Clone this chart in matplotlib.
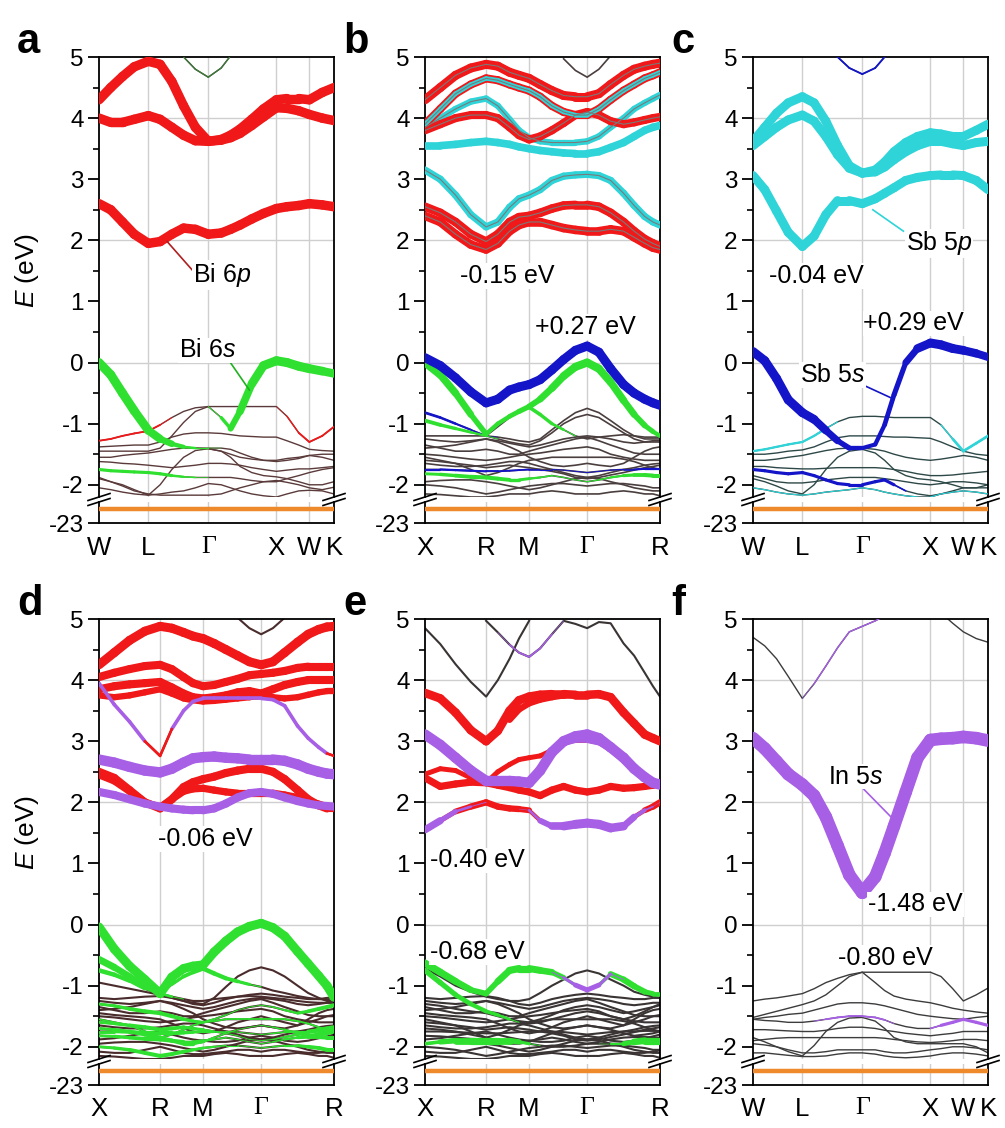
import numpy as np
import matplotlib.pyplot as plt
from matplotlib.collections import LineCollection
from matplotlib.lines import Line2D

plt.rcParams['font.family'] = ['Liberation Sans', 'DejaVu Sans']
plt.rcParams['mathtext.fontset'] = 'custom'
plt.rcParams['mathtext.rm'] = 'Liberation Sans'
plt.rcParams['mathtext.it'] = 'Liberation Sans:italic'
plt.rcParams['axes.unicode_minus'] = False

nan = np.nan

RED = '#f01818'
GREEN = '#30e030'
BLUE = '#1414c8'
CYAN = '#2fd4d8'
PURPLE = '#a75fe6'
ORANGE = '#ef8a2c'
GRID = '#cfcfcf'

# k paths (fraction of path length)
K_WL = [0, .05, .1, .15, .21, .26, .31, .36, .41, .465, .52, .56, .6, .65, .7, .755, .8, .85, .895, .95, 1.0]
K_XR = [0, .065, .13, .195, .26, .31, .36, .40, .443, .49, .54, .59, .64, .69, .74, .79, .845, .89, .935, .97, 1.0]
POS_WL = [0, 0.21, 0.465, 0.755, 0.895, 1.0]
LAB_WL = ['W', 'L', 'Γ', 'X', 'W', 'K']
POS_XR = [0, 0.26, 0.443, 0.69, 1.0]
LAB_XR = ['X', 'R', 'M', 'Γ', 'R']
DEEP_E = -22.45   # semicore band shown below the axis break

# ---------------- panel a ----------------
A_p1 = [2.6, 2.5, 2.3, 2.1, 1.95, 1.98, 2.1, 2.2, 2.18, 2.1, 2.12, 2.18, 2.25, 2.35, 2.44, 2.52, 2.55, 2.57, 2.6, 2.58, 2.55]
A_p2 = [4.0, 3.93, 3.93, 3.98, 4.04, 3.98, 3.85, 3.72, 3.63, 3.62, 3.64, 3.68, 3.75, 3.88, 4.02, 4.17, 4.16, 4.12, 4.06, 4.0, 3.96]
A_p3 = [4.3, 4.5, 4.68, 4.84, 4.93, 4.88, 4.6, 4.2, 3.85, 3.62, 3.65, 3.72, 3.82, 3.98, 4.15, 4.3, 4.32, 4.32, 4.3, 4.42, 4.5]
A_c4 = [nan] * 6 + [5.3, 5.0, 4.8, 4.67, 4.82, 5.02, 5.3] + [nan] * 8
A_v1 = [-1.28, -1.25, -1.2, -1.16, -1.12, -1.02, -0.9, -0.8, -0.74, -0.72, -0.9, -1.08, -0.8, -0.35, -0.05, 0.03, 0.0, -0.06, -0.1, -0.14, -0.18]
A_v2 = [0.0, -0.2, -0.5, -0.79, -1.11, -1.25, -1.33, -1.38, -1.4, -1.4, -1.4, -1.42, -1.48, -1.55, -1.6, -1.62, -1.6, -1.57, -1.52, -1.5, -1.5]
A_v3 = [-1.45, -1.45, -1.45, -1.45, -1.45, -1.4, -1.2, -0.98, -0.8, -0.72, -0.72, -0.72, -0.72, -0.72, -0.72, -0.72, -0.88, -1.15, -1.3, -1.2, -1.05]
A_v4 = [-1.38, -1.37, -1.36, -1.35, -1.35, -1.3, -1.22, -1.17, -1.15, -1.15, -1.16, -1.18, -1.2, -1.21, -1.22, -1.22, -1.28, -1.35, -1.42, -1.44, -1.45]
A_v5 = [-1.55, -1.55, -1.52, -1.5, -1.48, -1.45, -1.42, -1.4, -1.4, -1.41, -1.45, -1.5, -1.55, -1.58, -1.6, -1.6, -1.57, -1.55, -1.52, -1.55, -1.6]
A_v6 = [-1.9, -1.95, -2.0, -2.08, -2.17, -2.0, -1.75, -1.55, -1.44, -1.41, -1.45, -1.55, -1.7, -1.8, -1.85, -1.87, -1.9, -1.95, -2.0, -2.0, -1.95]
A_v7 = [-1.75, -1.77, -1.78, -1.79, -1.8, -1.82, -1.85, -1.87, -1.88, -1.88, -1.88, -1.88, -1.9, -1.93, -1.95, -1.95, -1.9, -1.85, -1.8, -1.75, -1.72]
A_v8 = [-1.62, -1.63, -1.65, -1.66, -1.68, -1.7, -1.72, -1.7, -1.68, -1.65, -1.65, -1.66, -1.68, -1.72, -1.75, -1.78, -1.76, -1.74, -1.74, -1.72, -1.7]
A_v9 = [-2.05, -2.08, -2.12, -2.15, -2.17, -2.15, -2.12, -2.1, -2.05, -1.98, -2.0, -2.05, -2.1, -2.15, -2.18, -2.2, -2.15, -2.1, -2.09, -2.1, -2.15]
A_v10 = [-1.88, -1.95, -2.02, -2.1, -2.15, -2.17, -2.17, -2.17, -2.17, -2.17, -2.15, -2.1, -2.05, -2.0, -1.95, -1.93, -1.96, -2.0, -2.05, -2.08, -2.04]
A_w1 = [0] * 10 + [0.2, 0.55, 0.8, 0.9, 1, 1, 1, 1, 1, 0.95, 0.9]
A_w1r = [0.2] * 6 + [0] * 15
A_w2 = [1, 1, 1, 1, 0.95, 0.85, 0.6, 0.35, 0.2, 0.1] + [0] * 11
A_w3r = [0] * 16 + [0.1, 0.2, 0.2, 0.2, 0.2]
A_w7 = [0.35] * 7 + [0.2, 0.15] + [0] * 12

# ---------------- panel b ----------------
B_blue = [0.08, -0.05, -0.25, -0.48, -0.66, -0.6, -0.45, -0.4, -0.36, -0.28, -0.12, 0.05, 0.2, 0.27, 0.17, -0.1, -0.36, -0.5, -0.6, -0.66, -0.7]
B_green = [0.0, -0.2, -0.5, -0.85, -1.17, -1.0, -0.88, -0.8, -0.72, -0.6, -0.42, -0.22, -0.07, 0.0, -0.1, -0.32, -0.62, -0.85, -1.03, -1.13, -1.2]
B_wg = [0.9, 0.85, 0.8, 0.7, 0.5, 0.45, 0.5, 0.55, 0.6, 0.7, 0.8, 0.85, 0.9, 0.9, 0.9, 0.85, 0.8, 0.7, 0.6, 0.5, 0.45]
B_v3 = [-0.82, -0.9, -1.0, -1.1, -1.2, -1.22, -1.25, -1.28, -1.3, -1.25, -1.1, -0.95, -0.82, -0.75, -0.82, -0.95, -1.1, -1.2, -1.25, -1.25, -1.25]
B_v4 = [-0.95, -1.02, -1.08, -1.14, -1.2, -1.25, -1.3, -1.33, -1.35, -1.28, -1.15, -1.0, -0.9, -0.85, -0.9, -1.02, -1.15, -1.25, -1.3, -1.3, -1.3]
B_v5 = [-1.2, -1.2, -1.2, -1.2, -1.2, -1.05, -0.9, -0.8, -0.73, -0.85, -1.0, -1.1, -1.2, -1.25, -1.22, -1.2, -1.18, -1.2, -1.22, -1.22, -1.22]
B_w3 = [0.3, 0.3, 0.25, 0.2, 0.1] + [0] * 16
B_w4 = [0.45, 0.4, 0.35, 0.3, 0.2] + [0] * 16
B_w5 = [0] * 7 + [0.3, 0.4, 0.4, 0.35, 0.25] + [0] * 9
B_c1 = [3.15, 3.0, 2.74, 2.42, 2.22, 2.3, 2.54, 2.68, 2.74, 2.83, 2.98, 3.05, 3.07, 3.08, 3.06, 2.98, 2.77, 2.57, 2.39, 2.3, 2.25]
B_r1 = [2.4, 2.3, 2.1, 1.93, 1.85, 1.95, 2.15, 2.25, 2.3, 2.3, 2.25, 2.2, 2.17, 2.15, 2.15, 2.18, 2.15, 2.05, 1.95, 1.88, 1.85]
B_r2 = [2.55, 2.45, 2.3, 2.1, 1.98, 2.1, 2.3, 2.38, 2.4, 2.45, 2.52, 2.57, 2.58, 2.58, 2.55, 2.45, 2.3, 2.15, 2.02, 1.95, 1.9]
B_c2 = [3.55, 3.55, 3.57, 3.6, 3.62, 3.6, 3.57, 3.53, 3.5, 3.47, 3.45, 3.43, 3.42, 3.42, 3.45, 3.52, 3.6, 3.7, 3.8, 3.85, 3.88]
B_c3 = [3.85, 4.0, 4.15, 4.27, 4.32, 4.2, 3.98, 3.8, 3.68, 3.62, 3.6, 3.6, 3.6, 3.62, 3.7, 3.85, 4.0, 4.15, 4.25, 4.32, 4.38]
B_m1 = [3.9, 4.15, 4.4, 4.55, 4.65, 4.62, 4.55, 4.5, 4.45, 4.35, 4.2, 4.1, 4.05, 4.05, 4.15, 4.3, 4.45, 4.55, 4.65, 4.7, 4.75]
B_rt = [4.3, 4.5, 4.7, 4.82, 4.88, 4.85, 4.75, 4.7, 4.65, 4.55, 4.45, 4.37, 4.35, 4.35, 4.4, 4.55, 4.7, 4.8, 4.85, 4.88, 4.9]
B_r3 = [3.8, 3.9, 4.0, 4.05, 4.05, 4.0, 3.85, 3.72, 3.65, 3.7, 3.8, 3.92, 4.05, 4.1, 4.05, 3.95, 3.9, 3.93, 3.97, 4.0, 4.02]
B_c4 = [nan] * 11 + [4.97, 4.78, 4.67, 4.8, 5.02] + [nan] * 5

# valence clutter on the X-R-M-G-R path
XR_c1 = [-1.35, -1.4, -1.45, -1.45, -1.42, -1.45, -1.5, -1.5, -1.45, -1.4, -1.35, -1.3, -1.25, -1.22, -1.28, -1.35, -1.42, -1.48, -1.5, -1.5, -1.5]
XR_c2 = [-1.5, -1.52, -1.55, -1.58, -1.6, -1.58, -1.55, -1.52, -1.5, -1.48, -1.45, -1.42, -1.4, -1.38, -1.42, -1.5, -1.55, -1.58, -1.6, -1.6, -1.6]
XR_c3 = [-1.75, -1.75, -1.76, -1.77, -1.78, -1.78, -1.77, -1.76, -1.75, -1.75, -1.75, -1.76, -1.78, -1.8, -1.78, -1.76, -1.75, -1.75, -1.74, -1.74, -1.74]
XR_c4 = [-1.82, -1.83, -1.85, -1.87, -1.88, -1.9, -1.92, -1.92, -1.9, -1.88, -1.85, -1.88, -1.92, -1.95, -1.92, -1.88, -1.85, -1.84, -1.84, -1.85, -1.85]
XR_c5 = [-1.65, -1.68, -1.7, -1.7, -1.68, -1.65, -1.62, -1.62, -1.65, -1.7, -1.75, -1.8, -1.85, -1.88, -1.85, -1.8, -1.75, -1.72, -1.68, -1.66, -1.65]
XR_c6 = [-2.0, -2.02, -2.05, -2.1, -2.15, -2.12, -2.08, -2.05, -2.02, -2.0, -1.98, -1.98, -2.0, -2.02, -2.0, -1.98, -1.98, -2.0, -2.02, -2.05, -2.05]
XR_c7 = [-2.15, -2.16, -2.18, -2.2, -2.2, -2.18, -2.15, -2.15, -2.15, -2.12, -2.1, -2.12, -2.15, -2.15, -2.15, -2.12, -2.1, -2.12, -2.15, -2.15, -2.18]
XR_c8 = [-1.4, -1.38, -1.35, -1.3, -1.25, -1.3, -1.38, -1.45, -1.55, -1.62, -1.68, -1.7, -1.68, -1.65, -1.68, -1.7, -1.65, -1.55, -1.45, -1.4, -1.38]
XR_c9 = [-1.25, -1.28, -1.3, -1.28, -1.25, -1.28, -1.32, -1.35, -1.38, -1.35, -1.3, -1.25, -1.22, -1.2, -1.22, -1.25, -1.3, -1.32, -1.3, -1.28, -1.28]
XR_c10 = [-1.6, -1.62, -1.65, -1.68, -1.72, -1.7, -1.68, -1.7, -1.72, -1.75, -1.78, -1.82, -1.88, -1.9, -1.88, -1.84, -1.8, -1.76, -1.72, -1.7, -1.68]
XR_c11 = [-1.95, -1.93, -1.92, -1.92, -1.95, -1.98, -2.02, -2.05, -2.08, -2.05, -2.0, -1.95, -1.9, -1.88, -1.9, -1.95, -2.0, -2.05, -2.08, -2.1, -2.1]
XR_c12 = [-1.55, -1.6, -1.65, -1.75, -1.85, -1.8, -1.72, -1.65, -1.6, -1.58, -1.55, -1.55, -1.55, -1.55, -1.55, -1.55, -1.58, -1.62, -1.68, -1.72, -1.75]
XR_c13 = [-1.3, -1.33, -1.38, -1.42, -1.45, -1.5, -1.55, -1.58, -1.6, -1.55, -1.48, -1.4, -1.35, -1.32, -1.35, -1.4, -1.45, -1.42, -1.38, -1.35, -1.32]
XR_c14 = [-1.45, -1.48, -1.5, -1.52, -1.55, -1.62, -1.7, -1.75, -1.78, -1.75, -1.68, -1.6, -1.55, -1.5, -1.55, -1.6, -1.65, -1.6, -1.55, -1.5, -1.48]
XR_c15 = [-1.7, -1.72, -1.75, -1.8, -1.85, -1.9, -1.95, -1.95, -1.92, -1.85, -1.78, -1.72, -1.68, -1.65, -1.68, -1.72, -1.78, -1.82, -1.8, -1.78, -1.75]
XR_c16 = [-2.08, -2.1, -2.1, -2.05, -2.0, -2.05, -2.1, -2.12, -2.12, -2.1, -2.08, -2.05, -2.05, -2.08, -2.05, -2.05, -2.08, -2.1, -2.1, -2.08, -2.06]
XR_c17 = [-1.2, -1.22, -1.2, -1.18, -1.17, -1.2, -1.25, -1.3, -1.32, -1.28, -1.22, -1.18, -1.15, -1.13, -1.15, -1.18, -1.2, -1.22, -1.22, -1.2, -1.2]
XR_c18 = [-1.88, -1.86, -1.82, -1.78, -1.75, -1.8, -1.85, -1.88, -1.9, -1.92, -1.92, -1.9, -1.85, -1.82, -1.85, -1.9, -1.92, -1.9, -1.86, -1.83, -1.8]
XR_wb = [0.25, 0.25, 0.25, 0.25, 0.2, 0.2, 0.2, 0.2, 0.2, 0.15, 0.1, 0.1, 0.1, 0.1, 0.1, 0.1, 0.15, 0.2, 0.25, 0.25, 0.25]
XR_wg = [0.3, 0.35, 0.4, 0.45, 0.45, 0.45, 0.4, 0.35, 0.3, 0.2, 0.15, 0.1, 0.1, 0.1, 0.15, 0.2, 0.3, 0.4, 0.45, 0.45, 0.45]

# ---------------- panel c ----------------
C_c1 = [3.06, 2.83, 2.48, 2.13, 1.9, 2.07, 2.42, 2.65, 2.65, 2.6, 2.68, 2.77, 2.86, 2.98, 3.03, 3.06, 3.07, 3.07, 3.06, 2.98, 2.83]
C_c2 = [3.55, 3.7, 3.85, 3.97, 4.05, 3.95, 3.7, 3.4, 3.18, 3.1, 3.12, 3.2, 3.32, 3.45, 3.55, 3.62, 3.62, 3.58, 3.55, 3.6, 3.62]
C_c3 = [3.62, 3.85, 4.08, 4.25, 4.35, 4.25, 3.95, 3.55, 3.22, 3.1, 3.15, 3.28, 3.45, 3.6, 3.7, 3.76, 3.74, 3.7, 3.7, 3.8, 3.9]
C_c4 = [nan] * 7 + [5.0, 4.82, 4.72, 4.82, 5.0] + [nan] * 9
C_blue = [0.18, 0.03, -0.26, -0.61, -0.82, -0.93, -1.11, -1.28, -1.4, -1.4, -1.34, -1.02, -0.53, 0.0, 0.23, 0.32, 0.29, 0.23, 0.2, 0.15, 0.09]
C_wb = [1, 1, 1, 1, 1, 0.95, 0.85, 0.7, 0.5, 0.45, 0.45, 0.5, 0.55, 0.6, 0.9, 1, 1, 1, 0.95, 0.9, 0.85]
C_v2 = [-1.45, -1.42, -1.38, -1.34, -1.3, -1.2, -1.08, -0.97, -0.9, -0.88, -0.88, -0.89, -0.9, -0.9, -0.9, -0.9, -1.02, -1.25, -1.45, -1.32, -1.2]
C_v3 = [-1.5, -1.5, -1.48, -1.45, -1.43, -1.38, -1.3, -1.23, -1.2, -1.2, -1.2, -1.21, -1.22, -1.22, -1.23, -1.24, -1.3, -1.38, -1.45, -1.5, -1.52]
C_v4 = [-1.6, -1.6, -1.58, -1.55, -1.52, -1.48, -1.44, -1.41, -1.4, -1.4, -1.42, -1.45, -1.5, -1.55, -1.58, -1.6, -1.58, -1.55, -1.52, -1.55, -1.6]
C_v5 = [-1.9, -1.95, -2.02, -2.1, -2.15, -2.0, -1.75, -1.55, -1.45, -1.42, -1.48, -1.6, -1.75, -1.85, -1.9, -1.92, -1.95, -2.0, -2.05, -2.05, -2.0]
C_v6 = [-1.75, -1.77, -1.8, -1.82, -1.8, -1.85, -1.92, -1.98, -2.0, -2.0, -1.95, -1.92, -2.0, -2.1, -2.15, -2.18, -2.15, -2.1, -2.05, -2.05, -2.05]
C_v7 = [-1.7, -1.7, -1.72, -1.73, -1.74, -1.74, -1.73, -1.72, -1.72, -1.72, -1.72, -1.73, -1.75, -1.78, -1.82, -1.85, -1.85, -1.84, -1.82, -1.8, -1.78]
C_v8 = [-2.05, -2.08, -2.12, -2.15, -2.17, -2.15, -2.12, -2.1, -2.08, -2.05, -2.08, -2.12, -2.15, -2.18, -2.2, -2.2, -2.15, -2.12, -2.1, -2.12, -2.15]
C_v9 = [-1.85, -1.9, -1.95, -1.97, -1.97, -1.95, -1.92, -1.9, -1.88, -1.88, -1.88, -1.9, -1.92, -1.95, -1.98, -2.0, -1.98, -1.95, -1.95, -1.97, -2.0]
C_w2 = [0.25] * 7 + [0] * 10 + [0.3, 0.3, 0.3, 0.3]
C_w6 = [0.35] * 13 + [0] * 8

# ---------------- panel d ----------------
D_rt = [4.25, 4.45, 4.65, 4.8, 4.88, 4.85, 4.78, 4.72, 4.68, 4.6, 4.5, 4.4, 4.3, 4.25, 4.3, 4.45, 4.62, 4.75, 4.83, 4.87, 4.88]
D_r2 = [4.05, 4.12, 4.18, 4.23, 4.25, 4.18, 4.05, 3.95, 3.9, 3.92, 3.97, 4.02, 4.08, 4.1, 4.12, 4.15, 4.2, 4.22, 4.22, 4.22, 4.22]
D_r3 = [3.85, 3.9, 3.93, 3.95, 3.97, 3.88, 3.78, 3.72, 3.7, 3.72, 3.75, 3.8, 3.82, 3.78, 3.85, 3.92, 3.97, 4.0, 4.0, 4.0, 4.0]
D_r4 = [3.75, 3.72, 3.75, 3.8, 3.85, 3.78, 3.7, 3.67, 3.65, 3.66, 3.68, 3.7, 3.72, 3.75, 3.72, 3.7, 3.72, 3.76, 3.8, 3.82, 3.82]
D_p1 = [3.95, 3.6, 3.32, 3.0, 2.76, 3.2, 3.5, 3.65, 3.7, 3.7, 3.7, 3.7, 3.7, 3.7, 3.68, 3.58, 3.25, 3.05, 2.9, 2.8, 2.76]
D_p2 = [2.7, 2.65, 2.58, 2.52, 2.49, 2.55, 2.65, 2.72, 2.74, 2.75, 2.73, 2.72, 2.7, 2.7, 2.7, 2.68, 2.62, 2.55, 2.5, 2.47, 2.46]
D_r5 = [2.5, 2.4, 2.2, 2.0, 1.9, 2.05, 2.25, 2.33, 2.38, 2.42, 2.48, 2.52, 2.55, 2.55, 2.5, 2.38, 2.2, 2.05, 1.95, 1.9, 1.9]
D_r6 = [2.45, 2.35, 2.18, 2.0, 1.92, 2.05, 2.18, 2.22, 2.23, 2.2, 2.17, 2.15, 2.15, 2.15, 2.15, 2.12, 2.08, 2.02, 1.97, 1.93, 1.92]
D_p3 = [2.17, 2.12, 2.05, 1.98, 1.93, 1.9, 1.88, 1.87, 1.87, 1.9, 1.98, 2.08, 2.15, 2.17, 2.14, 2.08, 2.02, 1.98, 1.95, 1.94, 1.93]
D_c = [nan] * 11 + [5.02, 4.85, 4.75, 4.85, 5.02] + [nan] * 5
D_green = [-0.04, -0.4, -0.68, -0.9, -1.13, -0.86, -0.72, -0.68, -0.66, -0.45, -0.27, -0.12, -0.03, 0.02, -0.05, -0.19, -0.44, -0.64, -0.84, -1.0, -1.19]
D_v2 = [-0.57, -0.7, -0.85, -1.0, -1.13, -1.18, -1.22, -1.25, -1.25, -1.22, -1.2, -1.18, -1.17, -1.18, -1.2, -1.22, -1.25, -1.27, -1.28, -1.28, -1.28]
D_v3 = [-0.75, -0.82, -0.92, -1.05, -1.15, -1.2, -1.25, -1.28, -1.3, -1.2, -1.02, -0.85, -0.75, -0.7, -0.75, -0.85, -1.0, -1.12, -1.2, -1.25, -1.27]
D_v4 = [-0.95, -1.0, -1.05, -1.1, -1.15, -0.98, -0.85, -0.78, -0.72, -0.8, -0.88, -0.93, -0.98, -1.02, -1.08, -1.12, -1.17, -1.2, -1.22, -1.23, -1.25]
D_w2 = [0.8, 0.75, 0.7, 0.6, 0.4, 0.2] + [0] * 15
D_w3 = [0.5, 0.5, 0.45, 0.35] + [0] * 17
D_w4 = [0] * 5 + [0.3, 0.4, 0.45, 0.5, 0.5, 0.45, 0.4, 0.3] + [0] * 8
D_wp1 = [0.4] * 4 + [0] + [0.4] * 15 + [0]
D_wr1 = [0] * 4 + [0.6] + [0] * 15 + [0.6]

# ---------------- panel e ----------------
E_t1 = [4.85, 4.59, 4.26, 3.97, 3.73, 4.0, 4.35, 4.68, 4.97] + [nan] * 12
E_t2 = [nan, nan, nan, nan, 4.97, 4.78, 4.58, 4.45, 4.38, 4.52, 4.75, 4.97, 4.92, 4.85, 4.95, 4.93, 4.6, 4.4, 4.12, 3.9, 3.73]
E_r1 = [3.79, 3.7, 3.47, 3.18, 3.0, 3.17, 3.5, 3.67, 3.73, 3.76, 3.77, 3.77, 3.76, 3.76, 3.77, 3.72, 3.47, 3.29, 3.11, 3.05, 3.0]
E_r2 = [nan] * 6 + [3.35, 3.52, 3.62, 3.68, 3.72, 3.75, 3.76] + [nan] * 8
E_p1 = [3.11, 2.94, 2.73, 2.52, 2.35, 2.35, 2.35, 2.34, 2.32, 2.52, 2.82, 3.0, 3.08, 3.11, 3.05, 2.9, 2.73, 2.55, 2.41, 2.32, 2.29]
E_rp = [2.46, 2.55, 2.52, 2.4, 2.32, 2.5, 2.62, 2.7, 2.73, 2.76, 2.85, 2.95, 3.0, 3.0, 2.96, 2.84, 2.66, 2.5, 2.38, 2.31, 2.29]
E_r3 = [2.4, 2.26, 2.3, 2.33, 2.32, 2.28, 2.24, 2.2, 2.17, 2.11, 2.2, 2.26, 2.2, 2.17, 2.2, 2.26, 2.23, 2.24, 2.26, 2.28, 2.3]
E_low = [1.55, 1.7, 1.85, 1.93, 2.0, 1.93, 1.9, 1.89, 1.87, 1.7, 1.61, 1.61, 1.64, 1.66, 1.64, 1.58, 1.61, 1.76, 1.87, 1.93, 2.0]
E_green = [-0.63, -0.78, -0.93, -1.07, -1.13, -0.93, -0.75, -0.72, -0.72, -0.75, -0.78, -0.87, -0.99, -1.07, -0.99, -0.81, -0.9, -1.01, -1.1, -1.13, -1.13]
E_hill = [-0.72, -0.85, -1.0, -1.1, -1.18, -1.22, -1.25, -1.25, -1.22, -1.12, -1.0, -0.9, -0.8, -0.75, -0.8, -0.9, -1.0, -1.1, -1.15, -1.18, -1.2]
E_v3 = [-0.75, -0.95, -1.15, -1.3, -1.42, -1.48, -1.55, -1.6, -1.62, -1.6, -1.55, -1.5, -1.45, -1.42, -1.45, -1.5, -1.55, -1.5, -1.42, -1.35, -1.3]
E_vg = [-1.95, -1.92, -1.9, -1.9, -1.9, -1.9, -1.9, -1.92, -1.95, -1.98, -2.0, -2.0, -1.98, -1.95, -1.95, -1.95, -1.95, -1.92, -1.9, -1.9, -1.9]
E_wt2 = [0] * 6 + [0.15, 0.2, 0.2, 0.2, 0.15] + [0] * 10
E_wlp = [0.9, 0.7, 0.4, 0.2, 0, 0, 0, 0, 0.1, 0.5, 0.8, 0.9, 1, 1, 1, 1, 0.9, 0.6, 0.3, 0.1, 0]
E_wlr = [0.3, 0.5, 0.6, 0.7, 0.7, 0.7, 0.7, 0.7, 0.6, 0.3, 0.1, 0, 0, 0, 0, 0, 0.1, 0.4, 0.6, 0.7, 0.7]
E_wrp_r = [0.55] * 11 + [0.3] * 10
E_wrp_p = [0] * 11 + [0.4] * 10
E_wg = [0.8, 0.8, 0.75, 0.7, 0.55, 0.7, 0.8, 0.8, 0.8, 0.75, 0.7, 0.5, 0.2, 0, 0.2, 0.6, 0.7, 0.7, 0.6, 0.5, 0.5]
E_wgp = [0] * 11 + [0.2, 0.5, 0.6, 0.5, 0.2] + [0] * 5
E_w3 = [0.6, 0.6, 0.55, 0.5, 0.45, 0.35, 0.25] + [0] * 14
E_wvg = [0.3, 0.5, 0.7, 0.8, 0.8, 0.8, 0.7, 0.5, 0.2, 0, 0, 0, 0, 0, 0, 0.1, 0.4, 0.7, 0.8, 0.8, 0.8]

# ---------------- panel f ----------------
F_s = [3.05, 2.88, 2.67, 2.46, 2.29, 2.11, 1.76, 1.29, 0.81, 0.52, 0.78, 1.17, 1.61, 2.17, 2.73, 3.02, 3.04, 3.05, 3.07, 3.05, 3.01]
F_t1 = [4.7, 4.56, 4.35, 4.06, 3.7, 3.94, 4.23, 4.53, 4.79, 4.88, 4.97, 5.05] + [nan] * 9
F_t2 = [nan] * 16 + [5.1, 4.93, 4.79, 4.68, 4.62]
F_v1 = [-1.25, -1.22, -1.2, -1.17, -1.13, -1.05, -0.95, -0.88, -0.82, -0.78, -0.78, -0.78, -0.78, -0.78, -0.78, -0.78, -0.85, -1.05, -1.25, -1.15, -1.04]
F_v2 = [-1.52, -1.47, -1.42, -1.37, -1.31, -1.25, -1.15, -1.0, -0.85, -0.78, -0.95, -1.08, -1.17, -1.22, -1.25, -1.28, -1.32, -1.37, -1.4, -1.43, -1.45]
F_v3 = [-1.55, -1.52, -1.5, -1.47, -1.45, -1.4, -1.35, -1.3, -1.28, -1.28, -1.3, -1.33, -1.37, -1.42, -1.47, -1.5, -1.52, -1.54, -1.55, -1.52, -1.5]
F_v4 = [-1.55, -1.57, -1.58, -1.6, -1.6, -1.58, -1.55, -1.52, -1.5, -1.5, -1.52, -1.56, -1.62, -1.67, -1.7, -1.7, -1.65, -1.6, -1.55, -1.6, -1.65]
F_v5 = [-1.85, -1.92, -2.0, -2.08, -2.15, -1.98, -1.75, -1.6, -1.53, -1.52, -1.58, -1.7, -1.85, -1.92, -1.95, -1.95, -1.95, -1.95, -1.95, -2.0, -2.1]
F_v6 = [-1.72, -1.72, -1.73, -1.74, -1.75, -1.75, -1.73, -1.7, -1.68, -1.68, -1.7, -1.73, -1.75, -1.78, -1.8, -1.82, -1.8, -1.78, -1.75, -1.75, -1.75]
F_v7 = [-1.95, -1.97, -2.0, -2.05, -2.1, -2.1, -2.08, -2.05, -2.05, -2.05, -2.05, -2.08, -2.1, -2.1, -2.08, -2.05, -2.03, -2.0, -2.0, -2.02, -2.05]
F_v8 = [-2.1, -2.1, -2.12, -2.14, -2.16, -2.16, -2.15, -2.12, -2.1, -2.1, -2.12, -2.15, -2.17, -2.18, -2.17, -2.15, -2.12, -2.1, -2.1, -2.12, -2.15]
F_v9 = [-1.9, -1.88, -1.86, -1.85, -1.85, -1.85, -1.85, -1.85, -1.85, -1.85, -1.85, -1.86, -1.88, -1.9, -1.92, -1.93, -1.92, -1.9, -1.88, -1.88, -1.9]
F_wt1 = [0] * 5 + [0.15] * 7 + [0] * 9
F_w4 = [0] * 6 + [0.2] * 6 + [0] * 4 + [0.35] * 5

XR_ALL = [XR_c1, XR_c2, XR_c3, XR_c4, XR_c5, XR_c6, XR_c7, XR_c8, XR_c9, XR_c10, XR_c11, XR_c12,
          XR_c13, XR_c14, XR_c15, XR_c16, XR_c17, XR_c18]

PANELS = [
    dict(lab='a', x0=99, row=0, k=K_WL, pos=POS_WL, names=LAB_WL, ylabel=True, tc='#5a3a3a', tlw=1.0,
         thin=[A_p1, A_p2, A_p3, A_c4, A_v1, A_v2, A_v3, A_v4, A_v5, A_v6, A_v7, A_v8, A_v9, A_v10],
         fat=[(A_v1, RED, A_w1r), (A_v3, RED, A_w3r), (A_v7, GREEN, A_w7),
              (A_v1, GREEN, A_w1), (A_v2, GREEN, A_w2),
              (A_p1, RED, 1.05), (A_p2, RED, 1.05), (A_p3, RED, 1.05), (A_c4, '#3a7a3a', 0.15)],
         notes=[(0.40, 1.43, 'Bi $\\mathit{6p}$'), (0.34, 0.2, 'Bi $\\mathit{6s}$')],
         leads=[((0.29, 1.98), (0.40, 1.5), '#b02020'), ((0.55, 0.05), (0.64, -0.45), '#20b020')]),
    dict(lab='b', x0=425, row=0, k=K_XR, pos=POS_XR, names=LAB_XR, ylabel=False, tc='#4a3e3e', tlw=1.2,
         thin=[B_blue, B_green, B_v3, B_v4, B_v5] + XR_ALL[:12] +
              [B_c1, B_r1, B_r2, B_c2, B_c3, B_m1, B_rt, B_r3, B_c4],
         fat=[(B_v3, BLUE, B_w3), (B_v4, GREEN, B_w4), (B_v5, GREEN, B_w5),
              (XR_c3, BLUE, XR_wb), (XR_c4, GREEN, XR_wg),
              (B_green, GREEN, B_wg), (B_blue, BLUE, 1),
              (B_r1, RED, 0.95), (B_r2, RED, 0.95), (B_c1, CYAN, 0.8),
              (B_c2, CYAN, 0.85), (B_c3, CYAN, 0.7), (B_r3, RED, 0.9),
              (B_m1, RED, 0.9), (B_m1, CYAN, 0.5), (B_rt, RED, 1)],
         core=[B_r1, B_r2, B_m1, B_r3, B_rt, B_c1, B_c3],
         notes=[(0.15, 1.42, '-0.15 eV'), (0.47, 0.58, '+0.27 eV')], leads=[]),
    dict(lab='c', x0=753, row=0, k=K_WL, pos=POS_WL, names=LAB_WL, ylabel=False, tc='#2e4848', tlw=1.0,
         thin=[C_c1, C_c2, C_c3, C_c4, C_blue, C_v2, C_v3, C_v4, C_v5, C_v6, C_v7, C_v8, C_v9],
         fat=[(C_v2, CYAN, C_w2), (C_v6, BLUE, C_w6), (C_v8, CYAN, 0.12),
              (C_blue, BLUE, C_wb), (C_c1, CYAN, 1), (C_c2, CYAN, 1), (C_c3, CYAN, 1),
              (C_c4, BLUE, 0.2)],
         notes=[(0.65, 1.95, 'Sb $\\mathit{5p}$'), (0.07, 1.42, '-0.04 eV'), (0.47, 0.64, '+0.29 eV'),
                (0.2, -0.2, 'Sb $\\mathit{5s}$')],
         leads=[((0.51, 2.5), (0.64, 2.15), CYAN), ((0.47, -0.37), (0.6, -0.6), BLUE)]),
    dict(lab='d', x0=99, row=1, k=K_XR, pos=POS_XR, names=LAB_XR, ylabel=True, tc='#4a2c2c', tlw=1.5,
         thin=[D_green, D_v2, D_v3, D_v4] + XR_ALL +
              [D_rt, D_r2, D_r3, D_r4, D_p1, D_p2, D_r5, D_r6, D_p3, D_c],
         fat=[(D_v2, GREEN, D_w2), (D_v3, GREEN, D_w3), (D_v4, GREEN, D_w4),
              (XR_c3, GREEN, XR_wg), (XR_c4, GREEN, XR_wg), (XR_c6, GREEN, XR_wg), (XR_c10, GREEN, XR_wg),
              (XR_c13, GREEN, XR_wg), (XR_c15, GREEN, XR_wg),
              (XR_c12, GREEN, 0.2), (D_green, GREEN, 1),
              (D_rt, RED, 1), (D_r2, RED, 0.9), (D_r3, RED, 0.9), (D_r4, RED, 0.7),
              (D_p1, PURPLE, D_wp1), (D_p1, RED, D_wr1), (D_r5, RED, 0.9), (D_r6, RED, 0.8),
              (D_p3, PURPLE, 0.9), (D_p2, PURPLE, 1.15)],
         notes=[(0.25, 1.4, '-0.06 eV')], leads=[]),
    dict(lab='e', x0=425, row=1, k=K_XR, pos=POS_XR, names=LAB_XR, ylabel=False, tc='#3a3434', tlw=1.5,
         thin=[E_t1, E_t2, E_r1, E_r2, E_p1, E_rp, E_r3, E_low, E_green, E_hill, E_v3, E_vg] + XR_ALL,
         fat=[(E_t2, PURPLE, E_wt2), (E_vg, GREEN, E_wvg), (E_v3, GREEN, E_w3),
              (E_green, GREEN, E_wg), (E_green, PURPLE, E_wgp),
              (E_r1, RED, 0.95), (E_r2, RED, 0.7), (E_r3, RED, 0.8),
              (E_low, RED, E_wlr), (E_low, PURPLE, E_wlp),
              (E_rp, RED, E_wrp_r), (E_rp, PURPLE, E_wrp_p), (E_p1, PURPLE, 1.15)],
         notes=[(0.02, 1.05, '-0.40 eV'), (0.02, -0.45, '-0.68 eV')], leads=[]),
    dict(lab='f', x0=753, row=1, k=K_WL, pos=POS_WL, names=LAB_WL, ylabel=False, tc='#3c3c3c', tlw=1.0,
         thin=[F_t1, F_t2, F_s, F_v1, F_v2, F_v3, F_v4, F_v5, F_v6, F_v7, F_v8, F_v9],
         fat=[(F_t1, PURPLE, F_wt1), (F_v4, PURPLE, F_w4), (F_s, PURPLE, 1.4)],
         notes=[(0.32, 2.42, 'In $\\mathit{5s}$'), (0.49, 0.33, '-1.48 eV'), (0.36, -0.55, '-0.80 eV')],
         leads=[((0.47, 2.22), (0.59, 1.75), PURPLE)]),
]

# pixel layout: (top, break top, break bottom, bottom) per row
ROWS = [(57, 497, 502, 523), (619, 1059, 1064, 1085)]
FW, FH = 1005, 1128
AXW = 235
EMIN = -2.2


def draw_fat(ax, k, e, w, color, wmax=6.5):
    k = np.asarray(k, float)
    e = np.asarray(e, float)
    w = np.broadcast_to(np.asarray(w, float), e.shape)
    pts = np.column_stack([k, e])
    segs = np.stack([pts[:-1], pts[1:]], axis=1)
    lw = 0.5 * (w[:-1] + w[1:]) * wmax
    ok = np.isfinite(e[:-1]) & np.isfinite(e[1:]) & (lw > 0.25)
    if ok.any():
        ax.add_collection(LineCollection(segs[ok], linewidths=lw[ok], colors=color,
                                         capstyle='round', joinstyle='round', zorder=3))


def brk_mark(xpx, ypx):
    x = [(xpx - 11) / FW, (xpx + 11) / FW]
    y = [1 - (ypx + 3.5) / FH, 1 - (ypx - 3.5) / FH]
    fig.add_artist(Line2D(x, y, color='black', lw=1.2))


fig = plt.figure(figsize=(FW / 100, FH / 100), dpi=100)

for p in PANELS:
    top, b1, b2, bot = ROWS[p['row']]
    x0 = p['x0']
    ax = fig.add_axes([x0 / FW, 1 - b1 / FH, AXW / FW, (b1 - top) / FH])
    lo = fig.add_axes([x0 / FW, 1 - bot / FH, AXW / FW, (bot - b2) / FH])
    k = p['k']

    for a in (ax, lo):
        a.set_xlim(0, 1)
        for s in a.spines.values():
            s.set_linewidth(1.3)
        for xv in p['pos'][1:-1]:
            a.axvline(xv, color=GRID, lw=1.0, zorder=0)
    ax.set_ylim(EMIN, 5)
    lo.set_ylim(-23, -22.2)
    ax.spines['bottom'].set_visible(False)
    lo.spines['top'].set_visible(False)
    for yv in (0, 2, 4):
        ax.axhline(yv, color=GRID, lw=1.0, zorder=0)

    ax.set_yticks(range(-2, 6))
    ax.set_yticks(np.arange(-1.5, 5, 1.0), minor=True)
    ax.set_xticks([])
    lo.set_yticks([-23])
    ax.tick_params(axis='y', which='major', direction='out', length=8, width=1.3, labelsize=17.5, pad=3)
    ax.tick_params(axis='y', which='minor', direction='out', length=4.5, width=1.2)
    lo.tick_params(axis='y', direction='out', length=8, width=1.3, labelsize=17.5, pad=3)
    lo.set_xticks(p['pos'])
    lo.set_xticklabels(p['names'])
    lo.tick_params(axis='x', length=0, labelsize=18.5, pad=9)
    for t in lo.get_xticklabels():
        if t.get_text() == 'Γ':
            t.set_family('Liberation Serif')

    # thin band lines
    for e in p['thin']:
        ax.plot(k, e, color=p['tc'], lw=p['tlw'], zorder=2)
    # projected weights
    for e, c, w in p['fat']:
        draw_fat(ax, k, e, w, c)
    for e in p.get('core', []):
        ax.plot(k, e, color='#7a7a7a', lw=0.8, zorder=4)

    # deep semicore level
    lo.plot([0, 1], [DEEP_E, DEEP_E], color=ORANGE, lw=3.2, solid_capstyle='butt', zorder=3)

    for x, y, s in p['notes']:
        ax.text(x, y, s, fontsize=18, ha='left', va='center', zorder=6,
                bbox=dict(facecolor='white', edgecolor='none', pad=0.5))
    for (xa, ya), (xb, yb), c in p['leads']:
        ax.plot([xa, xb], [ya, yb], color=c, lw=1.2, zorder=5)

    for xp in (x0, x0 + AXW):
        brk_mark(xp, b1)
        brk_mark(xp, b2)

    if p['ylabel']:
        fig.text(27 / FW, 1 - (top + 3.5 * 61.1) / FH, '$\\mathit{E}$ (eV)',
                 rotation=90, fontsize=19, ha='center', va='center')
    fig.text((x0 - 82) / FW, 1 - (top - 4) / FH, p['lab'], fontsize=30, fontweight='bold',
             ha='left', va='baseline')

fig.savefig('out.png', dpi=100)
